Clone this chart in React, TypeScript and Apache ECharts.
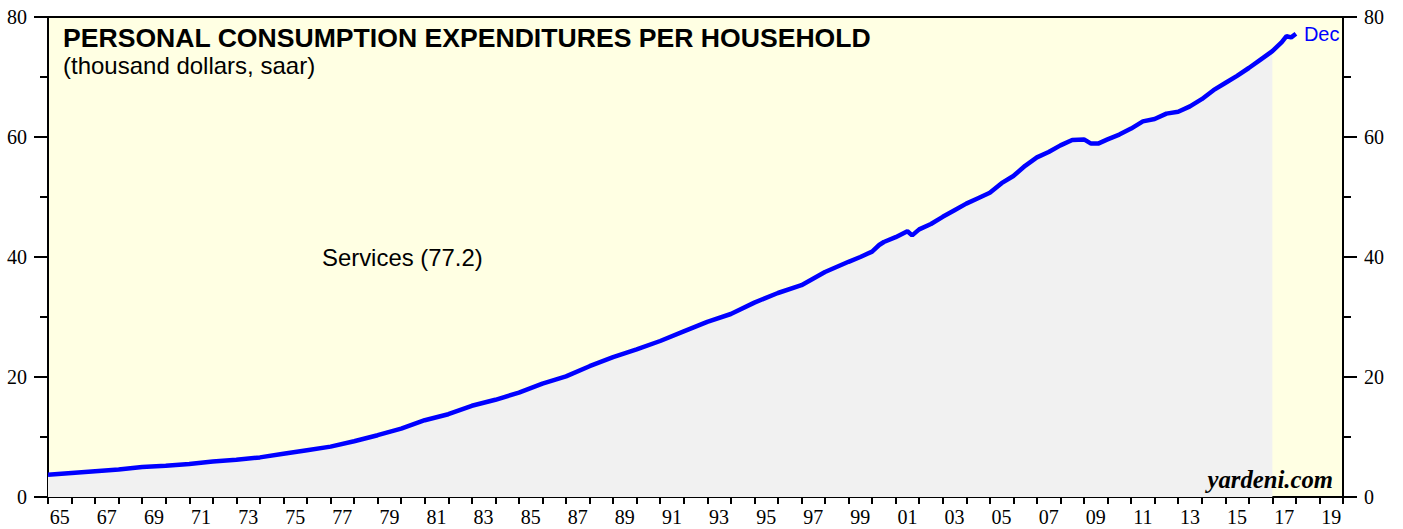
import React, { useEffect, useRef } from "react";
import * as echarts from "echarts";

// Category labels for the bottom axis (one per year, 1965..2019)
const yearLabels = [
  "65","66","67","68","69","70","71","72","73","74",
  "75","76","77","78","79","80","81","82","83","84",
  "85","86","87","88","89","90","91","92","93","94",
  "95","96","97","98","99","00","01","02","03","04",
  "05","06","07","08","09","10","11","12","13","14",
  "15","16","17","18","19",
];

// Services PCE per household (thousand dollars, saar)
const dates = [
  1965.0, 1966.0, 1967.0, 1968.0, 1969.0, 1970.0, 1971.0, 1972.0, 1973.0, 1974.0,
  1975.0, 1976.0, 1977.0, 1978.0, 1979.0, 1980.0, 1981.0, 1982.0, 1983.0, 1984.0,
  1985.0, 1986.0, 1987.0, 1988.0, 1989.0, 1990.0, 1991.0, 1992.0, 1993.0, 1994.0,
  1995.0, 1996.0, 1997.0, 1998.0, 1999.0, 1999.5, 2000.0, 2000.3, 2000.5, 2001.0,
  2001.5, 2001.7, 2002.0, 2002.5, 2003.0, 2003.5, 2004.0, 2004.5, 2005.0, 2005.5,
  2006.0, 2006.5, 2007.0, 2007.5, 2008.0, 2008.5, 2009.0, 2009.3, 2009.6, 2010.0,
  2010.5, 2011.0, 2011.5, 2012.0, 2012.5, 2013.0, 2013.5, 2014.0, 2014.5, 2015.0,
  2015.5, 2016.0, 2016.5, 2017.0, 2017.4, 2017.6, 2017.8, 2018.0,
];
const services = [
  3.7, 4.0, 4.3, 4.6, 5.0, 5.2, 5.5, 5.9, 6.2, 6.6,
  7.2, 7.8, 8.4, 9.3, 10.3, 11.4, 12.8, 13.8, 15.2, 16.2,
  17.4, 18.9, 20.1, 21.8, 23.3, 24.6, 26.0, 27.6, 29.2, 30.5,
  32.4, 34.0, 35.3, 37.5, 39.2, 40.0, 40.9, 42.0, 42.5, 43.3,
  44.3, 43.6, 44.6, 45.5, 46.7, 47.8, 48.9, 49.8, 50.7, 52.3,
  53.5, 55.2, 56.6, 57.5, 58.6, 59.5, 59.6, 58.9, 58.9, 59.6,
  60.4, 61.4, 62.6, 63.0, 63.9, 64.2, 65.1, 66.3, 67.8, 69.0,
  70.2, 71.5, 72.9, 74.3, 75.8, 76.8, 76.6, 77.2,
];
const areaEnd = 2017.0;
const yTicks = [0, 20, 40, 60, 80];

const serif = "'Liberation Serif', 'Times New Roman', serif";
const sans = "'Liberation Sans', Arial, Helvetica, sans-serif";

export default function App() {
  const ref = useRef<HTMLDivElement>(null);
  useEffect(() => {
    if (!ref.current) return;
    const chart = echarts.init(ref.current, null, { renderer: "svg" });
    const lineData = dates.map((d, i) => [d, services[i]]);
    const areaData = lineData.filter((p) => p[0] <= areaEnd);
    const yAxisCommon = (position: "left" | "right") => ({
      type: "value",
      position,
      min: yTicks[0],
      max: yTicks[yTicks.length - 1],
      interval: yTicks[1] - yTicks[0],
      axisLine: { show: true, lineStyle: { color: "#000", width: 2 } },
      axisTick: { show: true, length: 14, lineStyle: { color: "#000", width: 2 } },
      minorTick: { show: true, splitNumber: 2, length: 8, lineStyle: { color: "#000", width: 2 } },
      splitLine: { show: false },
      minorSplitLine: { show: false },
      axisLabel: { color: "#000", fontFamily: serif, fontSize: 20, margin: 21 },
    });
    chart.setOption({
      animation: false,
      backgroundColor: "#ffffff",
      grid: {
        left: 48,
        right: 60,
        top: 17,
        bottom: 32,
        show: true,
        backgroundColor: "#FFFFE3",
        borderColor: "#000",
        borderWidth: 2,
      },
      xAxis: [
        {
          type: "category",
          data: yearLabels,
          boundaryGap: true,
          position: "bottom",
          axisLine: { show: true, lineStyle: { color: "#000", width: 2 } },
          axisTick: { show: true, interval: 0, length: 7, lineStyle: { color: "#000", width: 2 } },
          axisLabel: { interval: 1, color: "#000", fontFamily: serif, fontSize: 20, margin: 10 },
          splitLine: { show: false },
        },
        {
          type: "value",
          min: 1965,
          max: 2020,
          show: false,
        },
      ],
      yAxis: [yAxisCommon("left"), yAxisCommon("right")],
      graphic: [
        {
          type: "text",
          left: 63,
          top: 24,
          z: 100,
          style: {
            text: "PERSONAL CONSUMPTION EXPENDITURES PER HOUSEHOLD",
            font: `bold 26.6px ${sans}`,
            fill: "#000",
          },
        },
        {
          type: "text",
          left: 63,
          top: 53,
          z: 100,
          style: { text: "(thousand dollars, saar)", font: `24px ${sans}`, fill: "#000" },
        },
        {
          type: "text",
          left: 322,
          top: 245,
          z: 100,
          style: { text: "Services (77.2)", font: `23.9px ${sans}`, fill: "#000" },
        },
        {
          type: "text",
          right: 70,
          top: 467,
          z: 100,
          style: { text: "yardeni.com", font: `italic bold 24.7px ${serif}`, fill: "#000" },
        },
      ],
      series: [
        {
          type: "line",
          xAxisIndex: 1,
          yAxisIndex: 0,
          data: areaData,
          symbol: "none",
          lineStyle: { width: 0, opacity: 0 },
          areaStyle: { color: "#F1F1F1", opacity: 1 },
          silent: true,
          z: 1,
        },
        {
          type: "line",
          xAxisIndex: 1,
          yAxisIndex: 0,
          data: lineData,
          symbol: "none",
          lineStyle: { color: "#0000FF", width: 4.5 },
          z: 3,
          endLabel: {
            show: true,
            formatter: "Dec",
            color: "#0000FF",
            fontFamily: sans,
            fontSize: 20,
            distance: 8,
          },
        },
      ],
    });
    return () => chart.dispose();
  }, []);
  return (
    <div
      ref={ref}
      style={{ position: "fixed", left: 0, top: 0, width: 1403, height: 529 }}
    />
  );
}
